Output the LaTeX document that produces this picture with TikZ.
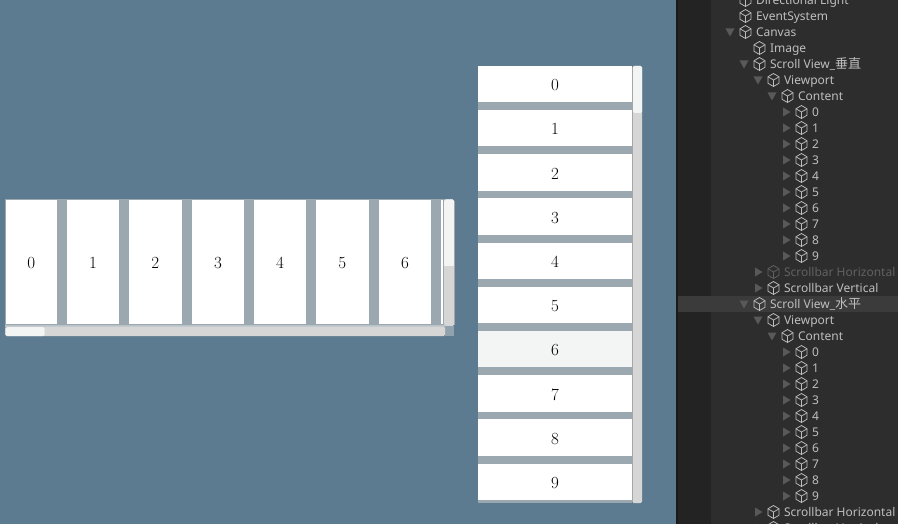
\documentclass[tikz,border=0pt]{standalone}
\usepackage{fontspec}
\setsansfont{Noto Sans}
\newfontfamily\cjk{Noto Sans CJK SC}
\definecolor{bgblue}{HTML}{5D7B90}
\definecolor{gapgray}{HTML}{9BA8AF}
\definecolor{track}{HTML}{D6D6D6}
\definecolor{handle}{HTML}{F3F5F4}
\definecolor{panel}{HTML}{2D2D2D}
\definecolor{panelside}{HTML}{232323}
\definecolor{panelline}{HTML}{1A1A1A}
\definecolor{rowhi}{HTML}{3B3B3B}
\definecolor{treetext}{HTML}{BEBEBE}
\definecolor{treedim}{HTML}{616161}
\definecolor{treearrow}{HTML}{595959}
\definecolor{corner}{HTML}{90A2AD}
\tikzset{
  x=1pt,y=-1pt,
  cell/.style={fill=white,draw=none,inner sep=0pt,outer sep=0pt,rectangle,font=\fontsize{17}{17}\selectfont,text=black},
  treelabel/.style={anchor=base west,inner sep=0pt,outer sep=0pt,text=treetext,font=\sffamily\fontsize{12}{12}\selectfont},
  cubeline/.style={draw=treetext,line width=0.75pt,line join=round},
}
\newcommand{\celltext}[1]{\smash{\raisebox{-6.6pt}{#1}}}
% cube icon: centre x, centre y, colour
\newcommand{\cubeicon}[3]{%
  \begin{scope}[shift={(#1,#2)}]
    \draw[cubeline,draw=#3] (0,-6.5)--(5.6,-3.2)--(5.6,3.2)--(0,6.5)--(-5.6,3.2)--(-5.6,-3.2)--cycle;
    \draw[cubeline,draw=#3] (-5.6,-3.2)--(0,0)--(5.6,-3.2) (0,0)--(0,6.5);
  \end{scope}}
\newcommand{\arrowdown}[2]{\fill[treearrow] (#1-4.5,#2-3.5)--(#1+4.5,#2-3.5)--(#1,#2+4.5)--cycle;}
\newcommand{\arrowright}[2]{\fill[treearrow] (#1-3.5,#2-4.5)--(#1+4,#2)--(#1-3.5,#2+4.5)--cycle;}
% y, icon x, arrow kind (n/d/r), text
\newcommand{\treerow}[5][treetext]{%
  \cubeicon{#3}{#2}{#1}%
  \if#4d\arrowdown{#3-15.5}{#2}\fi
  \if#4r\arrowright{#3-15}{#2}\fi
  \node[treelabel,text=#1] (row#2) at (#3+10.5,#2+4.5) {#5};}
\begin{document}
\begin{tikzpicture}
\useasboundingbox (0,0) rectangle (898,524);
\clip (0,0) rectangle (898,524);
\fill[bgblue] (0,0) rectangle (898,524);
% horizontal scroll view
\fill[gapgray] (5,199.5) rectangle (445,326);
\fill[gapgray!70!white] (5,325.2) rectangle (445,326.5);
\foreach \i/\a/\b in {0/5.5/57,1/67/119,2/129/181.5,3/192/244,4/254/306,5/316/368.5,6/379/431}{
  \node[cell,minimum width={(\b-\a)*1pt},minimum height=124pt] (h\i) at ({(\a+\b)/2},262) {\celltext{\i}};
}
\fill[white] (441,200) rectangle (443,324);
% vertical bar of left view
\fill[track,rounded corners=1.5pt] (444,199.5) rectangle (454,326);
\fill[handle,rounded corners=1.5pt] (444,199.5) rectangle (454,268);
\fill[track] (444,266) rectangle (454,268);
\draw[gray!70,line width=0.6pt] (454.2,201)--(454.2,325);
% horizontal bar of left view
\fill[corner] (445,326) rectangle (454,336);
\fill[track,rounded corners=1.5pt] (5,326.5) rectangle (445,336);
\fill[handle,rounded corners=1.5pt] (6,327) rectangle (44.5,336);
\draw[gray!70,line width=0.6pt] (445.2,327)--(445.2,335);
% vertical scroll view
\fill[gapgray] (478,66) rectangle (632,503);
\foreach \i/\a/\b in {0/66/102,1/110/146,2/154/191,3/198/235,4/243/279,5/287/323,7/375/412,8/419/456,9/464/500}{
  \node[cell,minimum width=154pt,minimum height={(\b-\a)*1pt}] (v\i) at (555,{(\a+\b)/2}) {\celltext{\i}};
}
\node[cell,fill=handle,minimum width=154pt,minimum height=36pt] (v6) at (555,349) {\celltext{6}};
\fill[track,rounded corners=1.5pt] (632,66) rectangle (642,503);
\fill[handle,rounded corners=1.5pt] (633,66) rectangle (642,113);
\draw[gray!70,line width=0.6pt] (632.2,67)--(632.2,502);
% hierarchy panel
\fill[panel] (676,0) rectangle (898,524);
\fill[panelside] (678,0) rectangle (711,524);
\fill[panelline] (676,0) rectangle (678,524);
\fill[rowhi] (678,296) rectangle (898,312);
\treerow{0}{745.5}{n}{Directional Light}
\treerow{16}{745.5}{n}{EventSystem}
\treerow{32}{745.5}{d}{Canvas}
\treerow{48}{759.5}{n}{Image}
\treerow{64}{759.5}{d}{Scroll View\_{\cjk\fontsize{13}{13}\selectfont 垂直}}
\treerow{80}{773.5}{d}{Viewport}
\treerow{96}{787.5}{d}{Content}
\foreach \n [evaluate=\n as \yy using int(112+16*\n)] in {0,...,9}{\treerow{\yy}{801.5}{r}{\n}}
\treerow[treedim]{272}{773.5}{r}{Scrollbar Horizontal}
\treerow{288}{773.5}{r}{Scrollbar Vertical}
\treerow{304}{759.5}{d}{Scroll View\_{\cjk\fontsize{13}{13}\selectfont 水平}}
\treerow{320}{773.5}{d}{Viewport}
\treerow{336}{787.5}{d}{Content}
\foreach \n [evaluate=\n as \yy using int(352+16*\n)] in {0,...,9}{\treerow{\yy}{801.5}{r}{\n}}
\treerow{512}{773.5}{r}{Scrollbar Horizontal}
\treerow{528}{773.5}{r}{Scrollbar Vertical}
\end{tikzpicture}
\end{document}
